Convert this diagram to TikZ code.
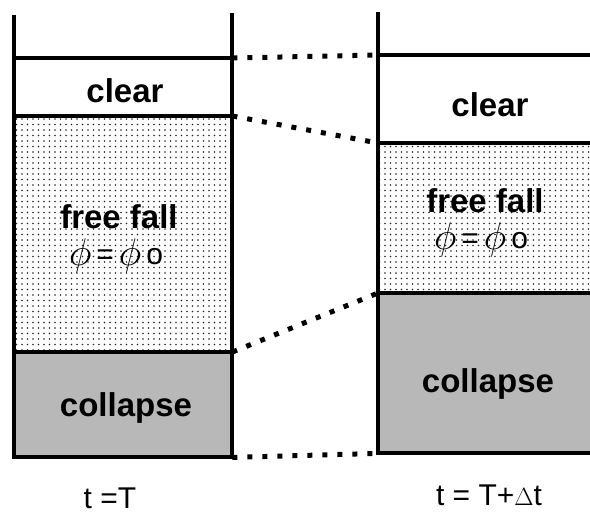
\documentclass[tikz,border=0pt]{standalone}
\usepackage{fontspec}
\usepackage{graphicx}
\setmainfont{Liberation Sans}
\usetikzlibrary{patterns.meta}
\newcommand{\bigphi}{\raisebox{-1pt}{\scalebox{1.55}{$\phi$}}}
\tikzstyle{wall} = [line width=4pt]
\tikzstyle{link} = [line width=5pt, dash pattern=on 5pt off 10pt]
\tikzstyle{layer} = [rectangle, draw=none, inner sep=0pt, anchor=north west]
\tikzstyle{freefall} = [layer, pattern={Dots[distance=5.5pt, radius=0.9pt]}, pattern color=black!85]
\tikzstyle{collapse} = [layer, fill=black!28]
\tikzstyle{zone} = [font=\fontsize{33}{36}\selectfont\bfseries, align=center, inner sep=0pt]
\tikzstyle{phase} = [font=\fontsize{30}{32}\selectfont, inner sep=0pt]

\begin{document}
\begin{tikzpicture}[x=1pt, y=-1pt]
\useasboundingbox (0,0) rectangle (590,515);

% Left column (t = T)
\node (clearL) [layer, minimum width=218pt, minimum height=58pt] at (14,58) {};
\node (freeL) [freefall, minimum width=218pt, minimum height=236pt] at (14,116) {};
\node (collL) [collapse, minimum width=218pt, minimum height=105pt] at (14,352) {};

% Right column (t = T + dt)
\node (clearR) [layer, minimum width=212pt, minimum height=88pt] at (378,55) {};
\node (freeR) [freefall, minimum width=212pt, minimum height=150pt] at (378,143) {};
\node (collR) [collapse, minimum width=212pt, minimum height=160pt] at (378,293) {};

% Walls
\draw [wall] (14,15) -- (14,459);
\draw [wall] (232,13) -- (232,459);
\draw [wall] (378,12) -- (378,455);
\draw [wall] (clearL.north west) -- (clearL.north east);
\draw [wall] (freeL.north west) -- (freeL.north east);
\draw [wall] (collL.north west) -- (collL.north east);
\draw [wall] (collL.south west) -- (collL.south east);
\draw [wall] (clearR.north west) -- (clearR.north east);
\draw [wall] (freeR.north west) -- (freeR.north east);
\draw [wall] (collR.north west) -- (collR.north east);
\draw [wall] (collR.south west) -- (collR.south east);

% Links between the two times
\draw [link] (clearL.north east) -- (clearR.north west);
\draw [link] (freeL.north east) -- (freeR.north west);
\draw [link] (collL.north east) -- (collR.north west);
\draw [link] (collL.south east) -- (collR.south west);

% Zone labels
\node (clearLtxt) [zone] at (125,91) {clear};
\node (freeLtxt) [zone] at (119,217) {free fall};
\node (phiL) [phase] at (116,256) {\bigphi\,=\,\bigphi\,o};
\node (collLtxt) [zone] at (126,408) {collapse};
\node (clearRtxt) [zone] at (490,105) {clear};
\node (freeRtxt) [zone] at (485,201) {free fall};
\node (phiR) [phase] at (481,240) {\bigphi\,=\,\bigphi\,o};
\node (collRtxt) [zone] at (488,384) {collapse};

% Times
\node (timeL) [phase] at (110,498) {t =T};
\node (timeR) [phase] at (489,495) {t = T+$\Delta$t};

\end{tikzpicture}
\end{document}
